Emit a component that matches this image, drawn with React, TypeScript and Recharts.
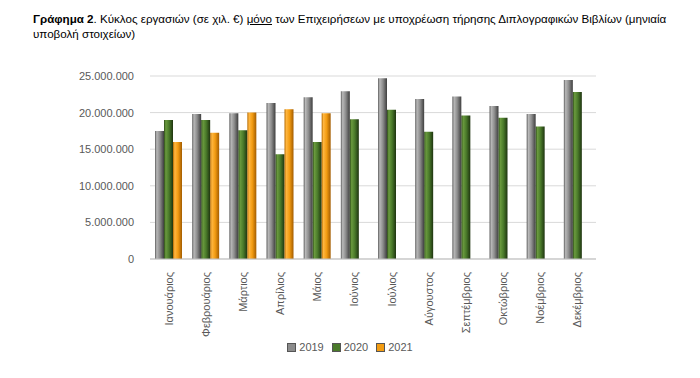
import { BarChart, Bar, XAxis, YAxis, CartesianGrid } from "recharts";

const MONTHS = [
  "Ιανουάριος", "Φεβρουάριος", "Μάρτιος", "Απρίλιος", "Μάιος", "Ιούνιος",
  "Ιούλιος", "Αύγουστος", "Σεπτέμβριος", "Οκτώβριος", "Νοέμβριος", "Δεκέμβριος",
];
const Y2019 = [17.5, 19.8, 19.9, 21.3, 22.1, 22.9, 24.7, 21.85, 22.2, 20.9, 19.8, 24.45];
const Y2020 = [19.0, 19.0, 17.6, 14.3, 16.0, 19.1, 20.4, 17.4, 19.6, 19.3, 18.1, 22.8];
const Y2021 = [16.0, 17.25, 20.0, 20.45, 19.9, null, null, null, null, null, null, null];
const Y_TICKS = [0, 5e6, 10e6, 15e6, 20e6, 25e6];

const data = MONTHS.map((m, i) => ({
  month: m,
  y2019: Y2019[i] * 1e6,
  y2020: Y2020[i] * 1e6,
  y2021: Y2021[i] == null ? null : (Y2021[i] as number) * 1e6,
}));

const SERIES = [
  { key: "y2019", name: "2019", grad: "g19", swatch: "#8c8c8c" },
  { key: "y2020", name: "2020", grad: "g20", swatch: "#4a7a2a" },
  { key: "y2021", name: "2021", grad: "g21", swatch: "#f39c12" },
];

const fmtDots = (v: number) => String(Math.round(v)).replace(/\B(?=(\d{3})+(?!\d))/g, ".");

const FONT = "'Liberation Sans', Arial, sans-serif";

function MonthTick(props: any) {
  const { x, y, payload } = props;
  return (
    <text
      x={0}
      y={0}
      transform={`translate(${x + 4},${y + 5}) rotate(-90)`}
      textAnchor="end"
      fontSize={11}
      fill="#595959"
      fontFamily={FONT}
    >
      {payload.value}
    </text>
  );
}

export default function App() {
  return (
    <div style={{ position: "absolute", left: 0, top: 0, width: 700, height: 378, background: "#fff", fontFamily: FONT }}>
      <div style={{ position: "absolute", left: 33, top: 11, fontSize: 11.6, lineHeight: "15px", color: "#000", width: 660 }}>
        <b>Γράφημα 2</b>. Κύκλος εργασιών (σε χιλ. €) <u>μόνο</u> των Επιχειρήσεων με υποχρέωση τήρησης Διπλογραφικών Βιβλίων (μηνιαία
        <br />
        υποβολή στοιχείων)
      </div>
      <div style={{ position: "absolute", left: 0, top: 0 }}>
        <BarChart
          width={700}
          height={378}
          data={data}
          margin={{ top: 76, right: 104, bottom: 29, left: 0 }}
          barGap={0}
          barCategoryGap={5}
        >
          <defs>
            <linearGradient id="g19" x1="0" y1="0" x2="1" y2="0">
              <stop offset="0%" stopColor="#5e5e5e" />
              <stop offset="20%" stopColor="#b8b8b8" />
              <stop offset="55%" stopColor="#8c8c8c" />
              <stop offset="100%" stopColor="#3e3e3e" />
            </linearGradient>
            <linearGradient id="g20" x1="0" y1="0" x2="1" y2="0">
              <stop offset="0%" stopColor="#2c4a18" />
              <stop offset="20%" stopColor="#6a9a3e" />
              <stop offset="55%" stopColor="#4a7a2a" />
              <stop offset="100%" stopColor="#1e3410" />
            </linearGradient>
            <linearGradient id="g21" x1="0" y1="0" x2="1" y2="0">
              <stop offset="0%" stopColor="#b56a00" />
              <stop offset="20%" stopColor="#ffb640" />
              <stop offset="55%" stopColor="#f39c12" />
              <stop offset="100%" stopColor="#a35c00" />
            </linearGradient>
          </defs>
          <CartesianGrid vertical={false} stroke="#d9d9d9" />
          <XAxis
            dataKey="month"
            height={90}
            interval={0}
            tick={<MonthTick />}
            tickLine={false}
            axisLine={{ stroke: "#bfbfbf" }}
          />
          <YAxis
            width={150}
            domain={[0, 25e6]}
            ticks={Y_TICKS}
            tickFormatter={fmtDots}
            tick={{ fontSize: 11, fill: "#595959", fontFamily: FONT }}
            tickLine={false}
            axisLine={false}
            tickMargin={10}
          />
          {SERIES.map((s) => (
            <Bar key={s.key} dataKey={s.key} name={s.name} fill={`url(#${s.grad})`} isAnimationActive={false} />
          ))}
        </BarChart>
      </div>
      <div style={{ position: "absolute", top: 341, left: 0, width: 700, display: "flex", justifyContent: "center", gap: 8, fontSize: 11, color: "#595959" }}>
        {SERIES.map((s) => (
          <div key={s.key} style={{ display: "flex", alignItems: "center", gap: 3 }}>
            <span style={{ width: 7, height: 7, background: s.swatch, display: "inline-block", border: "1px solid #555" }} />
            <span>{s.name}</span>
          </div>
        ))}
      </div>
    </div>
  );
}
